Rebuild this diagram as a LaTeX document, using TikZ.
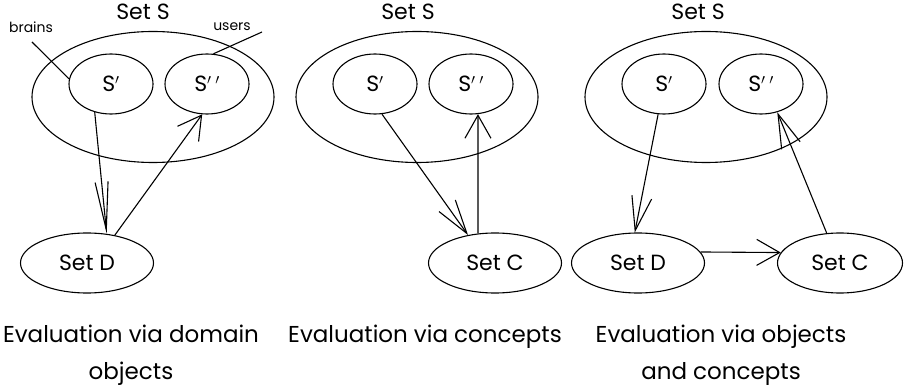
\documentclass[tikz,border=0pt]{standalone}
\usepackage{fontspec}
\setmainfont{Poppins}
\usetikzlibrary{shapes.geometric,arrows.meta}

\begin{document}
\begin{tikzpicture}
  [x=1pt,y=-1pt,line width=1.1pt,
   every node/.style={ellipse,draw,inner sep=0pt,font=\fontsize{22}{26}\selectfont},
   outerset/.style={minimum width=242pt,minimum height=131pt},
   innerset/.style={minimum width=84pt,minimum height=60pt},
   lowerset/.style={minimum width=133pt,minimum height=60pt},
   txt/.style={draw=none,rectangle},
   tag/.style={draw=none,rectangle,font=\fontsize{14}{16}\selectfont},
   caption/.style={draw=none,rectangle,align=center,anchor=base,font=\fontsize{23}{37}\selectfont},
   longhead/.style={-{Straight Barb[length=48pt,width=13pt]}},
   midhead/.style={-{Straight Barb[length=34pt,width=20pt]}},
   widehead/.style={-{Straight Barb[length=23pt,width=26pt]}}]
  \useasboundingbox (0,0) rectangle (904,387);

  % domain objects
  \node[txt] (ts1) at (143,12) {Set S};
  \node[outerset] (s1) at (153,97) {};
  \node[innerset] (sa1) at (111,84) {S$'$};
  \node[innerset] (sb1) at (207,84) {S$'$\,$'$};
  \node[lowerset] (d1) at (87,263) {Set D};
  \node[tag] (brains) at (31,27) {brains};
  \node[tag] (users) at (232,27) {users};
  \coordinate (bx) at (32,42);
  \coordinate (ux) at (262,32);
  \draw (bx) -- (sa1.173);
  \draw (ux) -- (sb1.78);
  \draw[longhead] (sa1.240) -- (d1.56);
  \draw[widehead] (d1.45) -- (sb1.261);
  \node[caption] (c1) at (131,379) {Evaluation via domain\\objects};

  % concepts
  \node[txt] (ts2) at (408,12) {Set S};
  \node[outerset] (s2) at (417,97) {};
  \node[innerset] (sa2) at (375,84) {S$'$};
  \node[innerset] (sb2) at (471,84) {S$'$\,$'$};
  \node[lowerset] (c2) at (495,263) {Set C};
  \draw[midhead] (sa2.283) -- (c2.134);
  \draw[widehead] (c2.120) -- (sb2.283);
  \node[caption] (c2t) at (425,342) {Evaluation via concepts};

  % objects and concepts
  \node[txt] (ts3) at (698,12) {Set S};
  \node[outerset] (s3) at (706,97) {};
  \node[innerset] (sa3) at (664,84) {S$'$};
  \node[innerset] (sb3) at (761,84) {S$'$\,$'$};
  \node[lowerset] (d3) at (638,263) {Set D};
  \node[lowerset,minimum width=125pt] (c3) at (840,263) {Set C};
  \draw[midhead] (sa3.259) -- (d3.96);
  \draw[widehead] (d3.10) -- (c3.170);
  \draw[midhead] (c3.114) -- (sb3.300);
  \node[caption] (c3t) at (721,379) {Evaluation via objects\\and concepts};
\end{tikzpicture}
\end{document}
